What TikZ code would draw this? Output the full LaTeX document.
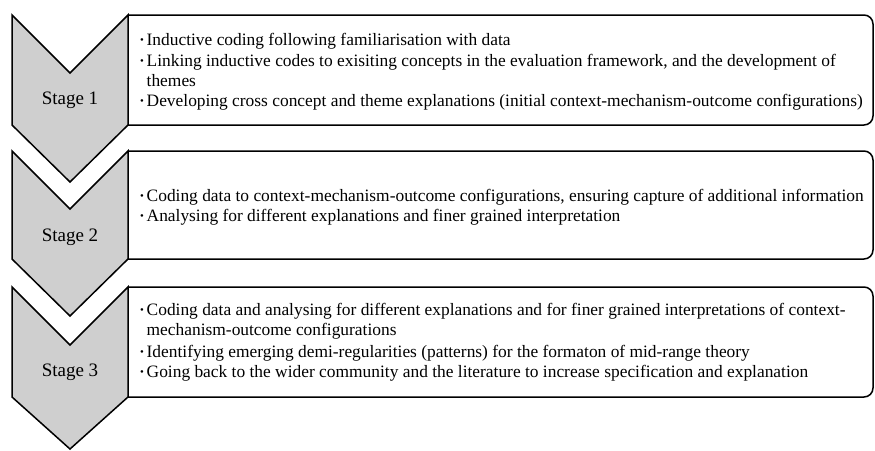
\documentclass[tikz,border=0pt]{standalone}
\usepackage{fontspec}
\setmainfont{Liberation Serif}
\usepackage{tikz}

\newcommand{\bul}{\makebox[6.5pt][l]{\raisebox{2pt}{\scalebox{0.62}{\textbullet}}}}
\newcommand{\cont}{\hspace*{6.5pt}}

\begin{document}
\begin{tikzpicture}[x=1pt,y=-1pt,
    chevron/.style={draw,line width=1.5pt,fill=black!19,line join=miter},
    stagebox/.style={draw,line width=1.5pt},
    stagelbl/.style={font=\fontsize{19}{22}\selectfont},
    itemtxt/.style={anchor=west,align=left,inner sep=0pt,
      font=\fontsize{17.4}{20.3}\selectfont}]
  \useasboundingbox (0,0) rectangle (875,450);
  % stage 1
  \draw[stagebox] (128,15) [rounded corners=9pt] -- (873,15) -- (873,125) -- (128,125);
  \draw[chevron] (12,15) -- (70,73) -- (128,15) -- (128,125) -- (70,182) -- (12,125) -- cycle;
  \node[stagelbl] (lbl1) at (70,100) {Stage 1};
  \node[itemtxt] (txt1) at (140,72) {\bul Inductive coding following familiarisation with data\\
    \bul Linking inductive codes to exisiting concepts in the evaluation framework, and the development of\\
    \cont themes\\
    \bul Developing cross concept and theme explanations (initial context-mechanism-outcome configurations)};
  % stage 2
  \begin{scope}[yshift=-136pt]
    \draw[stagebox] (128,15) [rounded corners=9pt] -- (873,15) -- (873,123) -- (128,123);
    \draw[chevron] (12,15) -- (70,73) -- (128,15) -- (128,123) -- (70,180) -- (12,123) -- cycle;
    \node[stagelbl] (lbl2) at (70,101) {Stage 2};
    \node[itemtxt] (txt2) at (140,71) {\bul Coding data to context-mechanism-outcome configurations, ensuring capture of additional information\\
      \bul Analysing for different explanations and finer grained interpretation};
  \end{scope}
  % stage 3
  \begin{scope}[yshift=-272pt]
    \draw[stagebox] (128,15) [rounded corners=9pt] -- (873,15) -- (873,125) -- (128,125);
    \draw[chevron] (12,15) -- (70,73) -- (128,15) -- (128,125) -- (70,177) -- (12,125) -- cycle;
    \node[stagelbl] (lbl3) at (70,100) {Stage 3};
    \node[itemtxt] (txt3) at (140,70) {\bul Coding data and analysing for different explanations and for finer grained interpretations of context-\\
      \cont mechanism-outcome configurations\\[1.5pt]
      \bul Identifying emerging demi-regularities (patterns) for the formaton of mid-range theory\\
      \bul Going back to the wider community and the literature to increase specification and explanation};
  \end{scope}
\end{tikzpicture}
\end{document}
